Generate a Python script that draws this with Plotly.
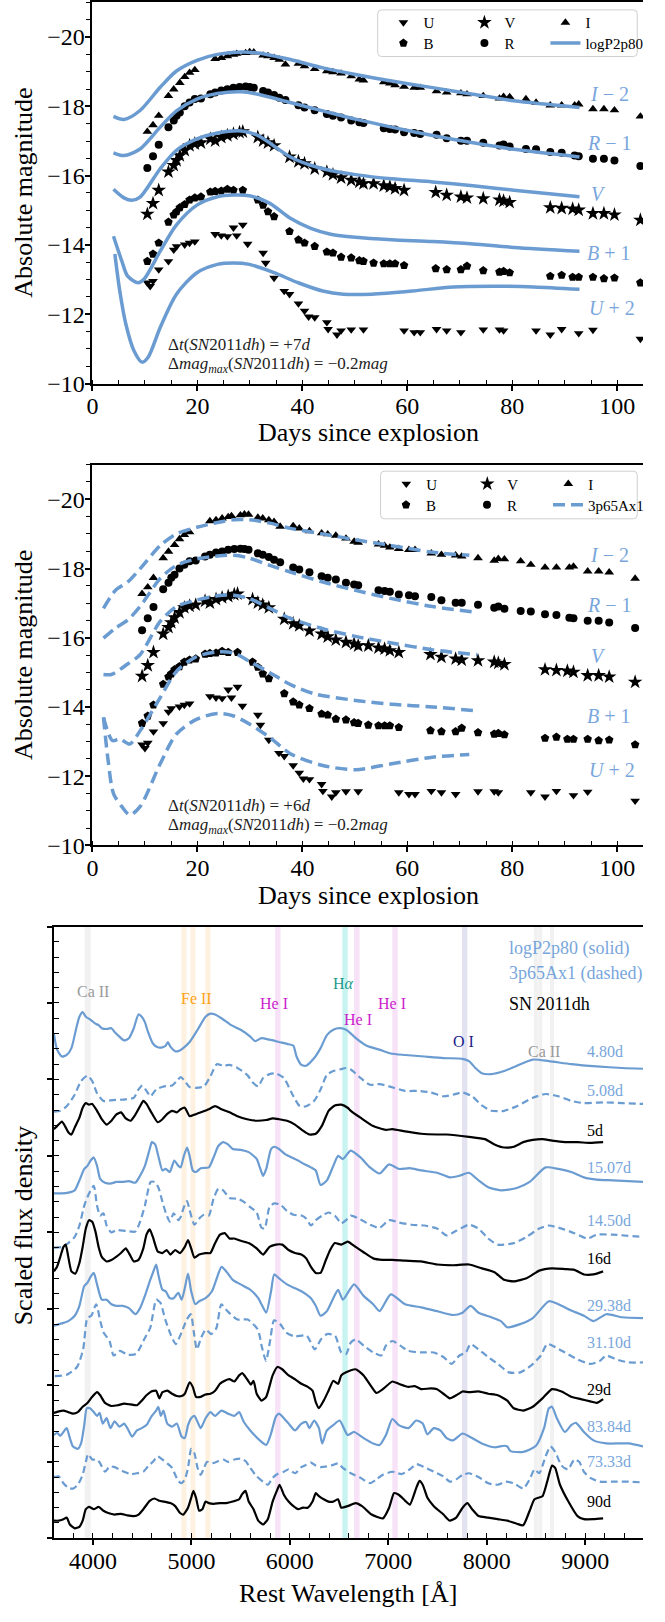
import numpy as np
import plotly.graph_objects as go

SERIF = "Liberation Serif"
BLUE = "#6a9bd1"
BLUE_TXT = "#78a6dc"
W, H = 665, 1622

# ---------------- light curves ----------------
# days since explosion for the Delta t = +7 d alignment (top panel); middle panel uses +6 d
DT_TOP, DT_MID = 7, 6

U_day = [10.45, 10.99, 11.53, 12.62, 14.47, 15.48, 16.02, 17.57, 18.50, 19.50, 23.37, 24.54, 25.70, 26.86, 27.48,
         28.64, 29.57, 32.51, 33.0, 34.60, 36.53, 37.54, 39.24, 40.40, 41.18, 42.34, 44.66, 44.9, 46.59, 47.37,
         49.30, 51.63, 59.37, 61.30, 62.46, 65.56, 67.49, 70.20, 74.46, 77.55, 78.33, 84.52, 87.23, 89.40, 92.65,
         95.36, 104.4]
U_mag = [-12.91, -12.81, -12.96, -13.29, -13.53, -13.86, -13.96, -14.01, -14.06, -14.10, -14.31, -14.27, -14.25,
         -14.50, -14.27, -14.58, -14.03, -13.77, -13.48, -13.05, -12.67, -12.58, -12.31, -12.10, -11.93, -11.91,
         -11.77, -11.57, -11.41, -11.53, -11.56, -11.56, -11.53, -11.48, -11.48, -11.57, -11.53, -11.48, -11.56,
         -11.56, -11.53, -11.53, -11.41, -11.57, -11.45, -11.55, -11.29]

V_day = [10.45, 11.53, 12.62, 14.47, 15.48, 16.02, 16.64, 17.57, 18.50, 19.50, 20.67, 22.45, 23.37, 24.54, 25.70,
         26.86, 28.02, 28.64, 31.50, 32.51, 33.44, 34.60, 37.54, 39.24, 40.40, 42.34, 44.66, 45.82, 47.37, 49.30,
         50.85, 51.63, 53.56, 55.50, 56.66, 57.66, 59.37, 65.40, 67.49, 70.20, 71.36, 74.46, 77.55, 78.33, 79.49,
         87.23, 89.40, 91.49, 92.65, 95.36, 97.45, 99.46, 104.4]
V_mag = [-14.89, -15.20, -15.58, -16.11, -16.30, -16.44, -16.58, -16.73, -16.87, -16.92, -16.95, -17.06, -17.01,
         -17.11, -17.16, -17.20, -17.25, -17.27, -17.11, -17.01, -16.95, -16.87, -16.54, -16.41, -16.35, -16.20,
         -16.11, -16.03, -15.94, -15.87, -15.82, -15.77, -15.77, -15.71, -15.68, -15.63, -15.58, -15.52, -15.44,
         -15.39, -15.36, -15.34, -15.30, -15.27, -15.23, -15.08, -15.06, -15.04, -15.01, -14.91, -14.91, -14.87,
         -14.72]

I_day = [10.45, 11.53, 12.62, 14.47, 15.48, 16.64, 17.57, 18.50, 19.50, 23.37, 24.54, 25.70, 26.86, 27.48, 29.18,
         29.95, 30.73, 32.51, 33.44, 34.60, 35.60, 36.76, 39.24, 40.40, 42.34, 44.66, 45.82, 47.37, 49.30, 50.85,
         51.63, 55.50, 56.66, 57.66, 59.37, 61.30, 62.46, 65.56, 67.49, 70.20, 71.36, 74.46, 77.55, 78.33, 79.49,
         82.59, 84.52, 87.23, 89.40, 91.87, 92.65, 95.36, 97.45, 99.46, 104.4]
I_mag = [-17.27, -17.46, -17.73, -18.30, -18.49, -18.68, -18.85, -18.97, -19.05, -19.37, -19.40, -19.45, -19.49,
         -19.52, -19.54, -19.57, -19.56, -19.47, -19.45, -19.40, -19.35, -19.21, -19.23, -19.16, -19.08, -19.02,
         -18.99, -18.95, -18.87, -18.78, -18.75, -18.70, -18.66, -18.61, -18.57, -18.54, -18.54, -18.44, -18.40,
         -18.38, -18.35, -18.30, -18.23, -18.28, -18.27, -18.21, -18.11, -18.03, -18.03, -18.03, -18.06, -17.92,
         -17.92, -17.89, -17.71]

B_day = [10.45, 11.53, 12.62, 14.47, 15.48, 16.02, 16.64, 17.57, 18.50, 19.50, 20.67, 22.45, 23.37, 24.54, 25.70,
         26.86, 28.64, 31.50, 32.51, 33.44, 34.60, 37.54, 39.24, 40.40, 42.34, 44.66, 45.82, 47.37, 49.30, 50.85,
         51.63, 53.56, 55.50, 56.66, 57.66, 59.37, 65.40, 67.49, 70.20, 71.36, 74.46, 77.55, 78.33, 79.49, 87.23,
         89.40, 91.49, 92.65, 95.36, 97.45, 99.46, 104.4]
B_mag = [-13.53, -13.74, -14.06, -14.66, -14.87, -14.96, -15.08, -15.17, -15.30, -15.36, -15.39, -15.53, -15.55,
         -15.56, -15.61, -15.58, -15.58, -15.30, -15.15, -14.96, -14.82, -14.39, -14.15, -14.06, -13.96, -13.80,
         -13.77, -13.65, -13.63, -13.55, -13.53, -13.48, -13.46, -13.46, -13.46, -13.41, -13.32, -13.29, -13.29,
         -13.39, -13.26, -13.22, -13.24, -13.20, -13.10, -13.13, -13.07, -13.07, -13.07, -13.03, -13.05, -12.91]

R_day = [10.45, 11.53, 12.62, 14.47, 15.48, 16.02, 16.64, 17.57, 18.50, 19.50, 20.67, 22.45, 23.37, 24.54, 25.70,
         26.86, 28.02, 29.18, 29.95, 30.73, 32.51, 33.44, 34.60, 35.60, 36.76, 39.24, 40.40, 42.34, 44.66, 45.82,
         47.37, 49.30, 50.85, 51.63, 55.50, 56.66, 57.66, 59.37, 61.30, 62.46, 65.56, 67.49, 70.20, 71.36, 74.46,
         77.55, 78.33, 79.49, 82.59, 84.52, 87.23, 89.40, 91.87, 92.65, 95.36, 97.45, 99.46, 104.4]
R_mag = [-16.22, -16.56, -16.89, -17.40, -17.59, -17.73, -17.82, -18.00, -18.11, -18.21, -18.23, -18.35, -18.40,
         -18.46, -18.49, -18.54, -18.56, -18.57, -18.56, -18.54, -18.44, -18.40, -18.33, -18.25, -18.18, -18.03,
         -17.97, -17.89, -17.78, -17.73, -17.68, -17.59, -17.54, -17.52, -17.37, -17.35, -17.33, -17.25, -17.23,
         -17.20, -17.18, -17.08, -17.01, -17.01, -16.95, -16.87, -16.90, -16.84, -16.77, -16.76, -16.68, -16.66,
         -16.58, -16.56, -16.49, -16.49, -16.44, -16.28]

# model logP2p80 (offsets already applied: I-2, R-1, V, B+1, U+2)
m1_I_day = [4.0, 6.0, 9.06, 12.9, 16.0, 19.9, 23.8, 28.4, 31.5, 37.7, 43.9, 50.1, 57.0, 64.8, 72.5, 80.3, 92.8]
m1_I_mag = [-17.71, -17.62, -17.88, -18.55, -19.02, -19.33, -19.50, -19.57, -19.54, -19.35, -19.11, -18.92, -18.73,
            -18.54, -18.35, -18.16, -17.97]
m1_R_day = [4.0, 6.0, 9.06, 12.9, 16.0, 19.9, 23.8, 28.4, 31.5, 37.7, 43.9, 50.1, 57.0, 64.8, 72.5, 80.3, 92.8]
m1_R_mag = [-16.66, -16.58, -16.77, -17.40, -17.87, -18.21, -18.37, -18.42, -18.35, -18.11, -17.87, -17.63, -17.40,
            -17.16, -16.95, -16.76, -16.54]
m1_V_day = [4.0, 6.0, 7.5, 9.06, 12.9, 16.0, 19.9, 23.8, 28.4, 31.5, 37.7, 41.6, 45.4, 50.1, 57.0, 64.8, 72.5, 80.3,
            92.8]
m1_V_mag = [-15.61, -15.36, -15.29, -15.38, -16.20, -16.73, -17.06, -17.23, -17.29, -17.16, -16.54, -16.30, -16.15,
            -16.03, -15.91, -15.82, -15.71, -15.58, -15.39]
m1_B_day = [4.0, 5.6, 6.7, 8.7, 9.8, 12.9, 16.0, 19.9, 23.8, 26.9, 29.9, 33.8, 37.7, 41.6, 45.4, 50.1, 57.0, 64.8,
            72.5, 80.3, 92.8]
m1_B_mag = [-14.25, -13.53, -13.10, -12.91, -13.01, -13.82, -14.58, -15.15, -15.39, -15.44, -15.42, -15.20, -14.77,
            -14.48, -14.31, -14.22, -14.15, -14.10, -14.03, -13.93, -13.82]
m1_U_day = [4.26, 5.2, 6.35, 7.9, 9.44, 10.6, 12.9, 16.0, 19.9, 23.8, 26.9, 29.9, 34.6, 39.2, 43.9, 47.8, 53.2, 60.9,
            68.7, 76.4, 84.1, 92.8]
m1_U_mag = [-13.74, -12.67, -11.72, -10.95, -10.62, -10.76, -11.62, -12.58, -13.20, -13.44, -13.48, -13.44, -13.20,
            -12.91, -12.67, -12.58, -12.58, -12.67, -12.79, -12.81, -12.79, -12.72]

# model 3p65Ax1
m2_I_day = [2.09, 4.4, 6.7, 9.06, 12.9, 16.0, 19.9, 23.8, 26.9, 29.9, 33.8, 37.7, 43.9, 50.1, 57.0, 64.8, 71.8]
m2_I_mag = [-16.85, -17.37, -17.61, -17.99, -18.66, -19.00, -19.19, -19.33, -19.41, -19.41, -19.31, -19.16, -19.00,
            -18.83, -18.66, -18.47, -18.38]
m2_R_day = [2.09, 4.4, 6.7, 9.06, 12.9, 16.0, 19.9, 23.8, 26.9, 29.9, 33.8, 37.7, 43.9, 50.1, 57.0, 64.8, 73.3]
m2_R_mag = [-15.99, -16.28, -16.51, -16.90, -17.71, -18.09, -18.28, -18.36, -18.38, -18.30, -18.09, -17.90, -17.61,
            -17.37, -17.13, -16.90, -16.73]
m2_V_day = [2.09, 3.6, 6.7, 9.06, 12.9, 16.0, 19.9, 23.8, 26.9, 29.9, 33.8, 37.7, 43.9, 50.1, 57.0, 64.8, 73.3]
m2_V_mag = [-14.94, -14.94, -15.24, -15.51, -16.47, -16.90, -17.09, -17.21, -17.23, -17.13, -16.85, -16.56, -16.26,
            -16.04, -15.85, -15.65, -15.51]
m2_B_day = [2.09, 3.8, 5.2, 7.1, 9.06, 12.9, 16.0, 19.9, 23.8, 26.9, 29.9, 33.8, 37.7, 42.3, 50.1, 57.0, 64.8, 73.3]
m2_B_mag = [-13.70, -13.03, -13.08, -12.93, -13.31, -14.27, -15.03, -15.46, -15.59, -15.56, -15.32, -14.99, -14.65,
            -14.38, -14.19, -14.08, -14.00, -13.89]
m2_U_day = [2.09, 2.9, 4.0, 5.6, 7.1, 9.06, 12.9, 16.0, 19.9, 23.8, 26.9, 29.9, 33.8, 37.7, 43.9, 50.1, 57.0, 64.8,
            71.8]
m2_U_mag = [-13.70, -12.55, -11.50, -11.12, -10.88, -11.12, -12.36, -13.22, -13.65, -13.81, -13.74, -13.51, -13.12,
            -12.65, -12.31, -12.19, -12.36, -12.55, -12.63]

band_labels = ["<i>I</i> − 2", "<i>R</i> − 1", "<i>V</i>", "<i>B</i> + 1", "<i>U</i> + 2"]
band_label_day = [98.5, 98.5, 96.4, 98.5, 99.0]
band_label_mag_top = [-18.35, -16.94, -15.46, -13.77, -12.18]
band_label_mag_mid = [-18.38, -16.96, -15.48, -13.74, -12.17]

# ---------------- spectra (scaled flux, offsets applied) ----------------
sA_wl = [3604, 3636, 3685, 3734, 3782, 3831, 3863, 3896, 3928, 3977, 4025, 4058, 4090, 4139, 4188, 4220, 4269, 4317,
         4366, 4415, 4463, 4496, 4528, 4560, 4609, 4658, 4706, 4739, 4761, 4787, 4836, 4868, 4917, 4982, 5063, 5144,
         5193, 5241, 5306, 5404, 5501, 5598, 5647, 5712, 5793, 5890, 5987, 6036, 6068, 6117, 6166, 6247, 6312, 6376,
         6441, 6506, 6571, 6620, 6652, 6781, 6911, 7025, 7171, 7365, 7560, 7754, 7819, 7884, 7949, 8046, 8176, 8305,
         8467, 8630, 8857, 9116, 9375, 9586]
sA_fl = [6.60, 6.39, 6.30, 6.32, 6.41, 6.67, 6.82, 6.88, 6.82, 6.78, 6.73, 6.71, 6.67, 6.66, 6.67, 6.62, 6.56, 6.51,
         6.54, 6.67, 6.85, 6.82, 6.75, 6.62, 6.47, 6.42, 6.42, 6.44, 6.49, 6.43, 6.37, 6.37, 6.41, 6.49, 6.65, 6.82,
         6.86, 6.85, 6.80, 6.71, 6.65, 6.56, 6.50, 6.54, 6.52, 6.49, 6.46, 6.44, 6.30, 6.19, 6.18, 6.28, 6.41, 6.58,
         6.65, 6.67, 6.65, 6.60, 6.56, 6.44, 6.39, 6.34, 6.32, 6.30, 6.28, 6.27, 6.24, 6.15, 6.08, 6.07, 6.11, 6.18,
         6.26, 6.24, 6.20, 6.17, 6.15, 6.14]

sB_wl = [3604, 3669, 3734, 3815, 3880, 3944, 3993, 4042, 4107, 4204, 4334, 4415, 4463, 4502, 4544, 4586, 4642, 4723,
         4804, 4852, 4891, 4933, 4982, 5047, 5128, 5193, 5258, 5323, 5387, 5468, 5566, 5631, 5679, 5728, 5793, 5858,
         5939, 6020, 6101, 6166, 6247, 6312, 6376, 6441, 6506, 6571, 6619, 6717, 6814, 6911, 7008, 7171, 7300, 7430,
         7560, 7657, 7754, 7851, 7949, 8046, 8176, 8305, 8467, 8597, 8727, 8857, 8986, 9181, 9375, 9586]
sB_fl = [5.58, 5.59, 5.65, 5.80, 5.98, 6.05, 5.98, 5.82, 5.72, 5.73, 5.74, 5.76, 5.87, 5.92, 5.85, 5.78, 5.87, 5.91,
         5.92, 5.98, 6.03, 5.98, 5.90, 5.89, 5.91, 6.04, 6.20, 6.18, 6.19, 6.15, 6.06, 5.95, 5.91, 6.02, 6.07, 6.08,
         6.02, 5.82, 5.65, 5.65, 5.72, 5.87, 6.06, 6.11, 6.13, 6.15, 6.13, 6.02, 5.93, 5.94, 5.91, 5.85, 5.85, 5.83,
         5.78, 5.80, 5.83, 5.78, 5.66, 5.59, 5.59, 5.65, 5.76, 5.81, 5.78, 5.72, 5.69, 5.70, 5.69, 5.68]

sC_wl = [3604, 3636, 3685, 3717, 3750, 3782, 3815, 3863, 3896, 3928, 3961, 3993, 4042, 4090, 4139, 4188, 4236, 4285,
         4334, 4382, 4431, 4479, 4512, 4544, 4593, 4658, 4706, 4755, 4804, 4852, 4891, 4933, 4982, 5031, 5095, 5177,
         5241, 5306, 5387, 5468, 5566, 5663, 5760, 5825, 5890, 5971, 6052, 6133, 6198, 6263, 6328, 6393, 6457, 6522,
         6587, 6619, 6717, 6846, 6976, 7041, 7171, 7333, 7495, 7592, 7819, 7981, 8078, 8176, 8273, 8370, 8467, 8565,
         8662, 8792, 8921, 9051, 9181]
sC_fl = [5.35, 5.39, 5.45, 5.39, 5.31, 5.28, 5.37, 5.50, 5.63, 5.69, 5.67, 5.68, 5.59, 5.48, 5.41, 5.46, 5.54, 5.57,
         5.49, 5.46, 5.54, 5.65, 5.72, 5.68, 5.57, 5.44, 5.48, 5.55, 5.59, 5.57, 5.61, 5.63, 5.52, 5.54, 5.57, 5.61,
         5.65, 5.61, 5.57, 5.52, 5.48, 5.46, 5.47, 5.49, 5.48, 5.46, 5.41, 5.33, 5.28, 5.29, 5.40, 5.59, 5.66, 5.67,
         5.63, 5.59, 5.50, 5.39, 5.34, 5.35, 5.32, 5.29, 5.28, 5.28, 5.25, 5.22, 5.15, 5.11, 5.12, 5.18, 5.21, 5.22,
         5.20, 5.18, 5.18, 5.17, 5.18]

sD_wl = [3604, 3685, 3750, 3815, 3863, 3912, 3944, 3977, 4009, 4042, 4074, 4123, 4188, 4236, 4301, 4366, 4431, 4479,
         4528, 4577, 4599, 4632, 4664, 4706, 4739, 4781, 4826, 4868, 4891, 4924, 4956, 4982, 5014, 5047, 5095, 5177,
         5225, 5274, 5323, 5371, 5420, 5501, 5582, 5663, 5695, 5728, 5760, 5809, 5841, 5890, 5955, 6020, 6084, 6149,
         6214, 6263, 6312, 6376, 6441, 6490, 6538, 6619, 6717, 6814, 6911, 7008, 7106, 7219, 7333, 7495, 7624, 7722,
         7819, 7916, 8014, 8143, 8305, 8435, 8597, 8727, 8857, 8986, 9116, 9278, 9586]
sD_fl = [4.51, 4.51, 4.52, 4.55, 4.68, 4.83, 4.87, 4.94, 4.98, 4.87, 4.70, 4.65, 4.64, 4.66, 4.66, 4.67, 4.65, 4.74,
         4.87, 5.09, 5.18, 5.15, 5.00, 4.81, 4.83, 4.79, 4.94, 4.87, 4.85, 5.00, 5.11, 5.00, 4.81, 4.79, 4.84, 4.85,
         4.98, 5.13, 5.18, 5.15, 5.09, 5.08, 5.05, 4.96, 4.85, 4.74, 4.83, 5.09, 5.12, 5.09, 5.02, 4.98, 4.94, 4.89,
         4.85, 4.81, 4.62, 4.68, 4.87, 5.00, 4.96, 5.07, 4.98, 4.85, 4.77, 4.89, 4.83, 4.84, 4.81, 4.78, 4.72, 4.74,
         4.78, 4.68, 4.59, 4.55, 4.58, 4.66, 4.85, 4.83, 4.79, 4.72, 4.69, 4.68, 4.66]

sE_wl = [3604, 3685, 3750, 3815, 3863, 3912, 3944, 3977, 4009, 4042, 4074, 4107, 4139, 4188, 4236, 4334, 4431, 4479,
         4528, 4586, 4625, 4664, 4706, 4739, 4781, 4820, 4868, 4891, 4924, 4956, 4982, 5031, 5079, 5128, 5177, 5225,
         5274, 5323, 5387, 5468, 5533, 5598, 5663, 5712, 5744, 5793, 5841, 5906, 5971, 6036, 6117, 6166, 6214, 6263,
         6328, 6393, 6457, 6522, 6571, 6619, 6717, 6814, 6911, 7008, 7106, 7235, 7365, 7495, 7592, 7689, 7819, 7916,
         8014, 8111, 8273, 8403, 8532, 8630, 8759, 8889, 9019, 9116, 9278, 9586]
sE_fl = [3.80, 3.81, 3.86, 3.94, 4.09, 4.35, 4.46, 4.55, 4.61, 4.35, 4.22, 4.25, 4.09, 4.00, 4.03, 4.02, 4.01, 4.14,
         4.35, 4.66, 4.66, 4.59, 4.40, 4.26, 4.14, 4.25, 4.16, 4.20, 4.33, 4.41, 4.29, 4.10, 4.18, 4.23, 4.22, 4.44,
         4.57, 4.55, 4.45, 4.44, 4.40, 4.33, 4.26, 4.06, 4.05, 4.33, 4.38, 4.36, 4.28, 4.23, 4.22, 4.18, 4.09, 4.16,
         4.22, 4.26, 4.22, 4.12, 4.16, 4.22, 4.17, 4.10, 4.06, 4.16, 4.13, 4.10, 4.09, 4.05, 3.96, 4.02, 4.10, 4.05,
         3.92, 3.84, 3.86, 3.94, 4.05, 4.09, 4.05, 3.99, 3.92, 3.97, 3.97, 3.94]

sF_wl = [3604, 3636, 3669, 3701, 3724, 3750, 3782, 3821, 3863, 3896, 3928, 3961, 3993, 4026, 4058, 4090, 4139, 4188,
         4236, 4285, 4334, 4366, 4415, 4463, 4512, 4544, 4577, 4609, 4658, 4706, 4749, 4787, 4836, 4885, 4933, 4966,
         4998, 5031, 5079, 5144, 5193, 5241, 5290, 5339, 5387, 5436, 5501, 5582, 5663, 5728, 5793, 5858, 5922, 5987,
         6052, 6117, 6166, 6214, 6263, 6312, 6360, 6409, 6457, 6522, 6587, 6668, 6749, 6846, 6943, 7041, 7171, 7333,
         7495, 7657, 7819, 7949, 8078, 8176, 8273, 8403, 8532, 8662, 8792, 8889, 8986, 9084, 9181]
sF_fl = [3.49, 3.55, 3.68, 3.81, 3.84, 3.68, 3.49, 3.46, 3.60, 3.81, 4.05, 4.16, 4.14, 4.01, 3.81, 3.68, 3.62, 3.64,
         3.68, 3.73, 3.79, 3.73, 3.62, 3.64, 3.79, 3.97, 4.04, 3.94, 3.75, 3.73, 3.77, 3.71, 3.77, 3.73, 3.81, 3.90,
         3.79, 3.67, 3.71, 3.73, 3.73, 3.86, 3.97, 3.99, 3.92, 3.92, 3.89, 3.86, 3.79, 3.71, 3.81, 3.84, 3.84, 3.77,
         3.73, 3.71, 3.66, 3.55, 3.47, 3.47, 3.62, 3.77, 3.86, 3.84, 3.88, 3.81, 3.74, 3.66, 3.64, 3.64, 3.63, 3.62,
         3.58, 3.57, 3.58, 3.53, 3.48, 3.38, 3.36, 3.40, 3.50, 3.53, 3.52, 3.51, 3.45, 3.45, 3.49]

sG_wl = [3604, 3685, 3750, 3815, 3863, 3912, 3944, 3977, 4009, 4042, 4090, 4139, 4188, 4236, 4301, 4366, 4431, 4479,
         4528, 4577, 4609, 4642, 4664, 4706, 4739, 4781, 4820, 4868, 4901, 4933, 4966, 4998, 5040, 5079, 5144, 5209,
         5258, 5306, 5355, 5420, 5501, 5598, 5679, 5712, 5760, 5809, 5841, 5890, 5971, 6052, 6117, 6166, 6214, 6263,
         6312, 6376, 6441, 6490, 6538, 6652, 6749, 6846, 6911, 7025, 7171, 7333, 7495, 7657, 7754, 7835, 7916, 8046,
         8143, 8208, 8338, 8467, 8630, 8727, 8857, 8986, 9084, 9213, 9375, 9586]
sG_fl = [2.78, 2.81, 2.84, 2.91, 3.04, 3.30, 3.34, 3.42, 3.47, 3.32, 3.12, 3.12, 3.06, 3.04, 3.04, 3.01, 2.93, 3.01,
         3.17, 3.36, 3.47, 3.58, 3.45, 3.25, 3.23, 3.14, 3.14, 3.21, 3.12, 3.27, 3.46, 3.23, 3.06, 3.10, 3.14, 3.23,
         3.40, 3.55, 3.49, 3.38, 3.32, 3.25, 3.14, 3.06, 2.95, 3.23, 3.45, 3.40, 3.32, 3.27, 3.23, 3.19, 3.14, 3.04,
         2.91, 2.97, 3.14, 3.25, 3.12, 3.32, 3.17, 3.06, 2.97, 3.19, 3.06, 3.02, 2.97, 2.92, 2.95, 3.04, 2.95, 2.89,
         2.84, 2.76, 2.80, 2.88, 3.10, 3.06, 2.98, 2.91, 2.84, 2.93, 2.89, 2.88]

sH_wl = [3613, 3736, 3839, 3901, 3943, 3984, 4033, 4075, 4108, 4169, 4211, 4273, 4355, 4438, 4520, 4582, 4644, 4685,
         4735, 4788, 4842, 4900, 4953, 4995, 5023, 5056, 5098, 5147, 5201, 5254, 5304, 5366, 5469, 5572, 5675, 5716,
         5758, 5799, 5840, 5902, 5964, 6047, 6170, 6253, 6315, 6377, 6459, 6522, 6571, 6619, 6668, 6749, 6846, 6927,
         6976, 7041, 7122, 7203, 7333, 7462, 7560, 7641, 7722, 7787, 7835, 7916, 8014, 8111, 8224, 8338, 8451, 8549,
         8613, 8694, 8792, 8921, 9051, 9148, 9213, 9311, 9440, 9586]
sH_fl = [2.12, 2.14, 2.24, 2.47, 2.88, 2.91, 3.06, 2.84, 2.69, 2.58, 2.39, 2.45, 2.40, 2.41, 2.60, 2.75, 3.12, 3.08,
         2.86, 2.67, 2.54, 2.69, 2.86, 2.93, 2.71, 2.47, 2.62, 2.73, 2.67, 2.75, 3.06, 2.97, 2.86, 2.86, 2.73, 2.50,
         2.32, 2.58, 2.85, 2.80, 2.69, 2.64, 2.65, 2.47, 2.60, 2.67, 2.65, 2.43, 2.41, 2.56, 2.60, 2.52, 2.43, 2.39,
         2.52, 2.58, 2.52, 2.45, 2.43, 2.43, 2.37, 2.28, 2.39, 2.43, 2.54, 2.47, 2.37, 2.28, 2.17, 2.17, 2.26, 2.39,
         2.54, 2.50, 2.43, 2.34, 2.28, 2.32, 2.39, 2.34, 2.30, 2.30]

sI_wl = [3604, 3653, 3701, 3750, 3798, 3847, 3896, 3944, 3993, 4042, 4074, 4123, 4188, 4252, 4317, 4382, 4447, 4496,
         4544, 4593, 4642, 4674, 4706, 4755, 4804, 4852, 4901, 4933, 4982, 5014, 5047, 5095, 5144, 5193, 5241, 5290,
         5339, 5387, 5436, 5485, 5517, 5566, 5605, 5631, 5663, 5712, 5760, 5825, 5874, 5922, 5987, 6052, 6117, 6182,
         6230, 6263, 6295, 6344, 6393, 6441, 6490, 6522, 6571, 6668, 6749, 6830, 6879, 6944, 7041, 7106, 7203, 7268,
         7333, 7430, 7495, 7560, 7624, 7689, 7754, 7819, 7916, 8014, 8111, 8208, 8273, 8370, 8467, 8565, 8662, 8759,
         8857, 8954, 9051, 9116, 9181]
sI_fl = [1.64, 1.66, 1.67, 1.65, 1.63, 1.65, 1.72, 1.77, 1.85, 1.91, 1.87, 1.77, 1.73, 1.74, 1.76, 1.75, 1.74, 1.80,
         1.87, 1.92, 1.93, 1.83, 1.91, 1.93, 1.89, 1.86, 1.86, 1.89, 2.04, 1.98, 1.85, 1.85, 1.88, 1.89, 1.93, 2.02,
         2.06, 2.08, 2.05, 2.13, 2.16, 2.08, 2.01, 2.06, 1.89, 1.80, 1.85, 2.13, 2.24, 2.21, 2.13, 2.08, 2.02, 1.98,
         1.93, 1.78, 1.70, 1.80, 1.93, 2.06, 2.02, 2.13, 2.17, 2.21, 2.13, 1.98, 1.90, 1.95, 2.05, 2.02, 1.98, 1.99,
         1.95, 1.96, 1.95, 1.89, 1.83, 1.87, 1.92, 1.91, 1.92, 1.89, 1.87, 1.80, 1.70, 1.67, 1.72, 1.83, 1.95, 1.92,
         1.85, 1.82, 1.79, 1.77, 1.82]

sJ_wl = [3604, 3636, 3669, 3701, 3734, 3766, 3798, 3847, 3880, 3912, 3938, 3970, 4009, 4042, 4068, 4100, 4139, 4178,
         4220, 4269, 4317, 4350, 4398, 4447, 4496, 4544, 4593, 4642, 4664, 4690, 4716, 4755, 4804, 4852, 4901, 4933,
         4966, 4998, 5031, 5063, 5095, 5144, 5193, 5241, 5306, 5371, 5436, 5485, 5533, 5598, 5695, 5760, 5809, 5858,
         5890, 5939, 5987, 6052, 6117, 6166, 6198, 6247, 6295, 6328, 6376, 6441, 6506, 6587, 6652, 6749, 6846, 6911,
         6976, 7041, 7106, 7203, 7284, 7349, 7397, 7462, 7527, 7592, 7657, 7754, 7851, 7949, 8078, 8176, 8208, 8241,
         8370, 8500, 8581, 8630, 8662, 8711, 8792, 8857, 8905, 8986, 9084, 9213, 9440, 9586]
sJ_fl = [1.35, 1.38, 1.34, 1.39, 1.44, 1.31, 1.20, 1.17, 1.24, 1.48, 1.70, 1.70, 1.65, 1.60, 1.64, 1.50, 1.57, 1.44,
         1.53, 1.46, 1.50, 1.44, 1.33, 1.41, 1.44, 1.48, 1.59, 1.67, 1.72, 1.60, 1.67, 1.50, 1.46, 1.50, 1.33, 1.31,
         1.48, 1.57, 1.60, 1.52, 1.44, 1.57, 1.65, 1.60, 1.67, 1.63, 1.60, 1.65, 1.52, 1.41, 1.28, 1.22, 1.37, 1.59,
         1.63, 1.57, 1.50, 1.41, 1.50, 1.52, 1.44, 1.54, 1.44, 1.24, 1.41, 1.48, 1.54, 1.35, 1.39, 1.31, 1.24, 1.22,
         1.35, 1.56, 1.48, 1.44, 1.54, 1.50, 1.36, 1.44, 1.41, 1.31, 1.28, 1.37, 1.31, 1.24, 1.19, 1.21, 1.20, 1.14,
         1.13, 1.21, 1.44, 1.70, 1.72, 1.57, 1.39, 1.48, 1.51, 1.39, 1.28, 1.24, 1.24, 1.20]

sK_wl = [3604, 3653, 3701, 3750, 3798, 3847, 3896, 3928, 3951, 3993, 4042, 4074, 4123, 4171, 4220, 4269, 4317, 4382,
         4447, 4512, 4560, 4609, 4658, 4706, 4755, 4804, 4836, 4868, 4901, 4933, 4966, 4998, 5031, 5063, 5095, 5128,
         5160, 5209, 5258, 5323, 5371, 5436, 5501, 5550, 5598, 5663, 5728, 5776, 5825, 5874, 5939, 5987, 6052, 6117,
         6166, 6214, 6263, 6312, 6376, 6441, 6490, 6538, 6619, 6717, 6814, 6879, 6944, 7041, 7138, 7236, 7284, 7365,
         7462, 7560, 7624, 7689, 7754, 7819, 7916, 8014, 8111, 8192, 8273, 8370, 8435, 8484, 8532, 8597, 8646, 8694,
         8759, 8824, 8889, 8938, 8986, 9051, 9148, 9278, 9440, 9586]
sK_fl = [0.80, 0.81, 0.72, 0.66, 0.65, 0.70, 0.83, 1.00, 1.10, 1.03, 1.03, 0.98, 0.87, 0.94, 0.93, 0.90, 0.87, 0.84,
         0.85, 0.87, 0.94, 1.00, 1.07, 1.03, 0.98, 0.92, 0.83, 0.75, 0.72, 0.77, 0.92, 1.17, 1.11, 0.92, 0.83, 0.92,
         1.00, 0.98, 1.00, 1.03, 1.00, 1.03, 1.04, 1.01, 0.92, 0.81, 0.74, 0.70, 0.79, 0.84, 0.87, 0.90, 0.85, 0.93,
         0.96, 0.99, 0.95, 0.93, 0.94, 0.96, 0.98, 0.92, 0.85, 0.79, 0.72, 0.77, 0.83, 0.87, 0.84, 0.92, 0.97, 0.93,
         0.87, 0.81, 0.74, 0.77, 0.83, 0.85, 0.80, 0.72, 0.70, 0.74, 0.72, 0.65, 0.77, 0.90, 0.85, 1.07, 1.20, 1.13,
         0.95, 0.90, 1.03, 1.00, 0.87, 0.79, 0.74, 0.74, 0.74, 0.73]

sL_wl = [3604, 3653, 3701, 3734, 3766, 3815, 3863, 3896, 3928, 3961, 4009, 4058, 4107, 4155, 4220, 4285, 4350, 4415,
         4463, 4512, 4577, 4625, 4674, 4723, 4787, 4836, 4885, 4917, 4966, 4998, 5021, 5047, 5079, 5112, 5144, 5177,
         5225, 5290, 5355, 5420, 5485, 5517, 5550, 5582, 5631, 5679, 5728, 5776, 5825, 5874, 5896, 5939, 5987, 6036,
         6084, 6133, 6182, 6230, 6263, 6295, 6344, 6393, 6441, 6490, 6522, 6587, 6668, 6733, 6830, 6944, 7008, 7057,
         7106, 7171, 7219, 7284, 7316, 7349, 7397, 7462, 7560, 7624, 7689, 7754, 7803, 7851, 7916, 8014, 8111, 8208,
         8305, 8370, 8435, 8484, 8565, 8613, 8662, 8694, 8743, 8824, 8921, 8986, 9084, 9181]
sL_fl = [0.23, 0.23, 0.25, 0.27, 0.18, 0.13, 0.15, 0.23, 0.38, 0.41, 0.38, 0.41, 0.36, 0.33, 0.31, 0.32, 0.30, 0.29,
         0.31, 0.38, 0.49, 0.52, 0.49, 0.48, 0.46, 0.42, 0.33, 0.31, 0.40, 0.53, 0.62, 0.53, 0.36, 0.38, 0.48, 0.46,
         0.45, 0.46, 0.46, 0.48, 0.51, 0.58, 0.62, 0.48, 0.38, 0.23, 0.18, 0.25, 0.48, 0.64, 0.70, 0.57, 0.48, 0.42,
         0.38, 0.40, 0.40, 0.48, 0.59, 0.55, 0.51, 0.48, 0.48, 0.51, 0.40, 0.42, 0.46, 0.42, 0.31, 0.26, 0.40, 0.59,
         0.57, 0.49, 0.44, 0.66, 0.75, 0.70, 0.53, 0.42, 0.31, 0.23, 0.27, 0.40, 0.46, 0.38, 0.29, 0.27, 0.25, 0.23,
         0.19, 0.17, 0.36, 0.51, 0.55, 0.74, 0.95, 0.92, 0.70, 0.49, 0.29, 0.25, 0.25, 0.26]

spec_labels = ["4.80d", "5.08d", "5d", "15.07d", "14.50d", "16d", "29.38d", "31.10d", "29d", "83.84d", "73.33d", "90d"]
spec_label_y = [6.36, 5.86, 5.33, 4.85, 4.16, 3.66, 3.04, 2.56, 1.95, 1.46, 1.00, 0.48]
spec_kind = ["solid", "dashed", "obs"] * 4

line_centers = [3947, 4925, 5016, 5168, 5878, 6560, 6680, 7068, 7775, 8498, 8542, 8662]
line_widths = [60, 50, 50, 50, 55, 55, 55, 55, 55, 40, 40, 40]
line_species = ["ca", "fe", "fe", "fe", "he", "ha", "he", "he", "o", "ca", "ca", "ca"]
line_ids = ["Ca II", "Fe II", "He I", "H<i>α</i>", "He I", "He I", "O I", "Ca II"]
line_id_wl = [4006, 5056, 5838, 6541, 6690, 7041, 7761, 8581]
line_id_y = [7.15, 7.06, 6.99, 7.26, 6.78, 6.99, 6.49, 6.37]
line_id_sp = ["ca", "fe", "he", "ha", "he", "he", "o", "ca"]

band_fill = {"ca": "rgba(190,190,190,0.22)", "fe": "rgba(255,190,110,0.22)", "he": "rgba(225,140,225,0.25)",
             "ha": "rgba(70,215,205,0.30)", "o": "rgba(140,140,200,0.25)"}
label_col = {"ca": "#9a9a9a", "fe": "#ffa31a", "he": "#cc22cc", "ha": "#1f9a8c", "o": "#1c1c8c"}

# ---------------- figure ----------------
fig = go.Figure()

obs = [("U", U_day, U_mag, "triangle-down", 8.5), ("V", V_day, V_mag, "star", 11),
       ("I", I_day, I_mag, "triangle-up", 8.5), ("B", B_day, B_mag, "pentagon", 9),
       ("R", R_day, R_mag, "circle", 8)]
models1 = [(m1_I_day, m1_I_mag), (m1_R_day, m1_R_mag), (m1_V_day, m1_V_mag), (m1_B_day, m1_B_mag),
           (m1_U_day, m1_U_mag)]
models2 = [(m2_I_day, m2_I_mag), (m2_R_day, m2_R_mag), (m2_V_day, m2_V_mag), (m2_B_day, m2_B_mag),
           (m2_U_day, m2_U_mag)]

panels = [("x", "y", DT_TOP, "legend", "legend2", models1, "solid", "logP2p80"),
          ("x2", "y2", DT_MID, "legend3", "legend4", models2, "12px,6px", "3p65Ax1")]

for xa, ya, dt, legA, legB, models, dash, mname in panels:
    for name, d, m, sym, sz in obs:
        fig.add_trace(go.Scatter(
            x=np.array(d) + (dt - DT_TOP), y=m, mode="markers", name=name, xaxis=xa, yaxis=ya,
            legend=legA if name in "UVI" else legB, cliponaxis=True,
            marker=dict(symbol=sym, size=sz, color="black", line=dict(width=0))))
    for k, (d, m) in enumerate(models):
        fig.add_trace(go.Scatter(
            x=d, y=m, mode="lines", name=mname, xaxis=xa, yaxis=ya, legend=legB, showlegend=(k == 0),
            legendwidth=72,
            line=dict(color=BLUE, width=3.5, dash=dash, shape="spline", smoothing=0.8)))

spectra = [(sA_wl, sA_fl), (sB_wl, sB_fl), (sC_wl, sC_fl), (sD_wl, sD_fl), (sE_wl, sE_fl), (sF_wl, sF_fl),
           (sG_wl, sG_fl), (sH_wl, sH_fl), (sI_wl, sI_fl), (sJ_wl, sJ_fl), (sK_wl, sK_fl), (sL_wl, sL_fl)]
for (wl, fl), kind in zip(spectra, spec_kind):
    if kind == "obs":
        ln = dict(color="black", width=2.2, shape="spline", smoothing=0.5)
    elif kind == "solid":
        ln = dict(color=BLUE, width=2.2, shape="spline", smoothing=0.6)
    else:
        ln = dict(color=BLUE, width=2.2, dash="7px,4px", shape="spline", smoothing=0.6)
    fig.add_trace(go.Scatter(x=wl, y=fl, mode="lines", xaxis="x3", yaxis="y3", showlegend=False, line=ln))

# ---------------- layout ----------------
def py(p):
    return 1 - p / H

tickfont = dict(family=SERIF, size=24, color="black")
dom1 = [py(386.7), py(2.4)]
dom2 = [py(852.3), py(468.4)]
dom3 = [py(1550.7), py(934.0)]


def lc_x(anchor):
    return dict(domain=[90.3 / W, 1], range=[0, 104.9], anchor=anchor, showline=True, linecolor="black",
                linewidth=2, mirror=True, ticks="outside", ticklen=5, tickwidth=1.5, tickcolor="black",
                tick0=0, dtick=20, minor=dict(ticks="inside", ticklen=4, tickwidth=1, tickcolor="black", dtick=5),
                showgrid=False, zeroline=False, tickfont=tickfont, ticklabelstandoff=-5)


def lc_y(anchor, dom):
    return dict(domain=dom, range=[-10, -21], anchor=anchor, showline=True, linecolor="black", linewidth=2,
                mirror=False, ticks="outside", ticklen=5, tickwidth=1.5, tickcolor="black", tick0=-20, dtick=2,
                minor=dict(ticks="outside", ticklen=4, tickwidth=1, tickcolor="black", dtick=0.5),
                showgrid=False, zeroline=False, tickfont=tickfont, ticklabelstandoff=-4)


def legend_row(xpx, top_px):
    return dict(x=xpx / W, xanchor="left", y=py(top_px), yanchor="top", orientation="h", entrywidth=36,
                entrywidthmode="pixels", bgcolor="rgba(0,0,0,0)", borderwidth=0,
                font=dict(family=SERIF, size=15, color="black"), traceorder="normal")


shapes = []
for c, w_, sp in zip(line_centers, line_widths, line_species):
    shapes.append(dict(type="rect", xref="x3", yref="y3", x0=c - w_ / 2, x1=c + w_ / 2, y0=0, y1=8,
                       fillcolor=band_fill[sp], line=dict(width=0), layer="below"))


def rounded_box(x0, y0, x1, y1, r=4):
    X = lambda v: v / W
    Y = lambda v: 1 - v / H
    p = (f"M {X(x0 + r)},{Y(y0)} L {X(x1 - r)},{Y(y0)} Q {X(x1)},{Y(y0)} {X(x1)},{Y(y0 + r)} "
         f"L {X(x1)},{Y(y1 - r)} Q {X(x1)},{Y(y1)} {X(x1 - r)},{Y(y1)} L {X(x0 + r)},{Y(y1)} "
         f"Q {X(x0)},{Y(y1)} {X(x0)},{Y(y1 - r)} L {X(x0)},{Y(y0 + r)} Q {X(x0)},{Y(y0)} {X(x0 + r)},{Y(y0)} Z")
    return dict(type="path", xref="paper", yref="paper", path=p, line=dict(color="#cfcfcf", width=1),
                fillcolor="rgba(255,255,255,0)", layer="above")


shapes.append(rounded_box(388, 10, 659, 57))
shapes.append(rounded_box(391, 475, 659, 523))

ann = []
txt_font = dict(family=SERIF, size=26, color="black")
ann.append(dict(text="Days since explosion", x=378 / W, y=py(436), xref="paper", yref="paper",
                showarrow=False, font=txt_font, xanchor="center", yanchor="middle"))
ann.append(dict(text="Days since explosion", x=378 / W, y=py(903), xref="paper", yref="paper",
                showarrow=False, font=txt_font, xanchor="center", yanchor="middle"))
ann.append(dict(text="Rest Wavelength [Å]", x=357 / W, y=py(1606), xref="paper", yref="paper",
                showarrow=False, font=txt_font, xanchor="center", yanchor="middle"))
for ttl, yc in [("Absolute magnitude", 194), ("Absolute magnitude", 660), ("Scaled flux density", 1236)]:
    ann.append(dict(text=ttl, x=18 / W, y=py(yc), xref="paper", yref="paper", showarrow=False,
                    font=txt_font, textangle=-90, xanchor="center", yanchor="middle"))

for xr, yr, mags, dt in [("x", "y", band_label_mag_top, DT_TOP), ("x2", "y2", band_label_mag_mid, DT_MID)]:
    for lab, d, m in zip(band_labels, band_label_day, mags):
        ann.append(dict(text=lab, x=d, y=m, xref=xr, yref=yr, showarrow=False,
                        font=dict(family=SERIF, size=20, color=BLUE_TXT), xanchor="center", yanchor="middle"))
    ann.append(dict(text=f"Δ<i>t</i>(<i>SN</i>2011<i>dh</i>) = +{dt}<i>d</i>", x=14.0,
                    y=-11.14 if dt == DT_TOP else -11.16, xref=xr, yref=yr, showarrow=False,
                    font=dict(family=SERIF, size=17, color="#222222"), xanchor="left", yanchor="middle"))
    ann.append(dict(text="Δ<i>mag</i><sub><i>max</i></sub>(<i>SN</i>2011<i>dh</i>) = −0.2<i>mag</i>", x=14.0,
                    y=-10.54 if dt == DT_TOP else -10.56, xref=xr, yref=yr, showarrow=False,
                    font=dict(family=SERIF, size=17, color="#222222"), xanchor="left", yanchor="middle"))

for lab, wl, yv, sp in zip(line_ids, line_id_wl, line_id_y, line_id_sp):
    ann.append(dict(text=lab, x=wl, y=yv, xref="x3", yref="y3", showarrow=False,
                    font=dict(family=SERIF, size=16, color=label_col[sp]), xanchor="center", yanchor="middle"))

for lab, yv, kind in zip(spec_labels, spec_label_y, spec_kind):
    ann.append(dict(text=lab, x=9000, y=yv, xref="x3", yref="y3", showarrow=False,
                    font=dict(family=SERIF, size=16, color="black" if kind == "obs" else BLUE_TXT),
                    xanchor="left", yanchor="middle"))

for lab, yv, col in [("logP2p80 (solid)", 7.71, BLUE_TXT), ("3p65Ax1 (dashed)", 7.38, BLUE_TXT),
                     ("SN 2011dh", 6.99, "black")]:
    ann.append(dict(text=lab, x=8202, y=yv, xref="x3", yref="y3", showarrow=False,
                    font=dict(family=SERIF, size=18, color=col), xanchor="left", yanchor="middle"))

fig.update_layout(
    width=W, height=H, autosize=False, margin=dict(l=0, r=0, t=0, b=0),
    paper_bgcolor="white", plot_bgcolor="white", showlegend=True,
    font=dict(family=SERIF, color="black"),
    xaxis=lc_x("y"), yaxis=lc_y("x", dom1),
    xaxis2=lc_x("y2"), yaxis2=lc_y("x2", dom2),
    xaxis3=dict(domain=[49.6 / W, 1], range=[3600, 9586], anchor="y3", showline=True, linecolor="black",
                linewidth=2, mirror=True, ticks="outside", ticklen=5, tickwidth=1.5, tickcolor="black",
                tick0=0, dtick=1000, minor=dict(ticks="inside", ticklen=5, tickwidth=1, tickcolor="black",
                                                dtick=200),
                showgrid=False, zeroline=False, tickfont=tickfont, ticklabelstandoff=-5),
    yaxis3=dict(domain=dom3, range=[0, 8], anchor="x3", showline=True, linecolor="black", linewidth=2,
                mirror=False, ticks="outside", ticklen=5, tickwidth=1.5, tickcolor="black", tick0=0, dtick=1,
                showticklabels=False, minor=dict(ticks="inside", ticklen=5, tickwidth=1, tickcolor="black",
                                                 dtick=0.2),
                showgrid=False, zeroline=False),
    legend=legend_row(394, 6.3), legend2=legend_row(394, 27.0),
    legend3=legend_row(397, 471.3), legend4=legend_row(397, 492.5),
    shapes=shapes, annotations=ann,
)

fig.write_html("out.html", config={"displayModeBar": False},
               post_script="document.body.style.margin='0';document.body.style.overflow='hidden';")
